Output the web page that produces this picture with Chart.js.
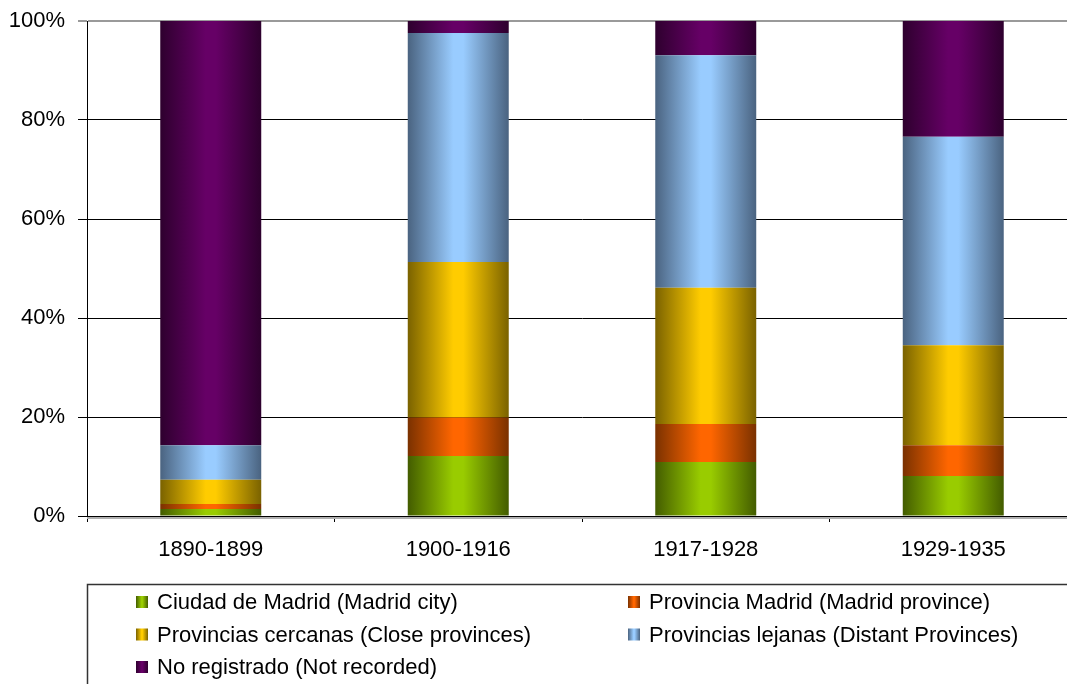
<!DOCTYPE html>
<html>
<head>
<meta charset="utf-8">
<script src="https://cdn.jsdelivr.net/npm/chart.js@4/dist/chart.umd.min.js"></script>
<style>
  html, body { margin: 0; padding: 0; background: #fff; overflow: hidden; }
  #caja { width: 1092px; height: 684px; }
</style>
</head>
<body>
<div id="caja"><canvas id="graficoOrigen"></canvas></div>
<script>
// Periodos (eje X)
const periodos = ['1890-1899', '1900-1916', '1917-1928', '1929-1935'];

// Porcentajes por origen
const ciudadMadrid       = [1.4, 12.1, 10.9, 8.1];
const provinciaMadrid    = [1.0, 7.8, 7.7, 6.2];
const provinciasCercanas = [4.9, 31.4, 27.5, 20.2];
const provinciasLejanas  = [7.0, 46.3, 47.0, 42.1];
const noRegistrado       = [85.7, 2.4, 6.9, 23.4];

const nombresSeries = [
    'Ciudad de Madrid (Madrid city)',
    'Provincia Madrid (Madrid province)',
    'Provincias cercanas (Close provinces)',
    'Provincias lejanas (Distant Provinces)',
    'No registrado (Not recorded)'
];

// colores: [claro (centro), oscuro (bordes)]
const colores = [
    ['#99cc00', '#435c00'],
    ['#ff6600', '#7a3100'],
    ['#ffcc00', '#7a6200'],
    ['#99ccff', '#4a6380'],
    ['#660066', '#2e002e']
];

const ANCHO_BARRA = 0.408;

function degradado(ctx, x0, x1, claro, oscuro) {
    const g = ctx.createLinearGradient(x0, 0, x1, 0);
    g.addColorStop(0, oscuro);
    g.addColorStop(0.45, claro);
    g.addColorStop(0.55, claro);
    g.addColorStop(1, oscuro);
    return g;
}

function relleno(claro, oscuro) {
    return (c) => {
        const chart = c.chart;
        const xs = chart.scales.x;
        if (!chart.chartArea || !xs || c.type !== 'data') return claro;
        const centro = xs.getPixelForValue(c.dataIndex);
        const ancho = (xs.width / periodos.length) * ANCHO_BARRA;
        return degradado(chart.ctx, centro - ancho / 2, centro + ancho / 2, claro, oscuro);
    };
}

const valores = [ciudadMadrid, provinciaMadrid, provinciasCercanas, provinciasLejanas, noRegistrado];

const datasets = valores.map((v, i) => ({
    label: nombresSeries[i],
    data: v,
    backgroundColor: relleno(colores[i][0], colores[i][1]),
    borderWidth: 0,
    barPercentage: ANCHO_BARRA,
    categoryPercentage: 1
}));

// Leyenda en caja, dos columnas, debajo del gráfico
const leyendaCaja = {
    id: 'leyendaCaja',
    afterDraw(chart) {
        const ctx = chart.ctx;
        const abajo = chart.chartArea.bottom;
        ctx.save();
        // línea gris bajo el eje X
        ctx.strokeStyle = '#b0b0b0';
        ctx.lineWidth = 2;
        ctx.beginPath();
        ctx.moveTo(chart.chartArea.left, abajo + 2);
        ctx.lineTo(chart.chartArea.right, abajo + 2);
        ctx.stroke();

        ctx.strokeStyle = '#333';
        ctx.lineWidth = 1.5;
        ctx.strokeRect(87.5, 584.5, 1200, 200);

        ctx.font = '22px "Liberation Sans", Arial, sans-serif';
        ctx.textBaseline = 'middle';
        ctx.fillStyle = '#000';
        chart.data.datasets.forEach((ds, i) => {
            const col = i % 2;
            const fila = Math.floor(i / 2);
            const x = col ? 628 : 136;
            const y = 602 + fila * 32.5;
            ctx.fillStyle = degradado(ctx, x, x + 12, colores[i][0], colores[i][1]);
            ctx.fillRect(x, y - 6, 12, 12);
            ctx.fillStyle = '#000';
            ctx.fillText(ds.label, x + 21, y + 1);
        });
        ctx.restore();
    }
};

Chart.defaults.font.family = '"Liberation Sans", Arial, sans-serif';
Chart.defaults.font.size = 22;
Chart.defaults.color = '#000';

new Chart(document.getElementById('graficoOrigen'), {
    type: 'bar',
    data: { labels: periodos, datasets: datasets },
    plugins: [leyendaCaja],
    options: {
        responsive: true,
        maintainAspectRatio: false,
        animation: false,
        layout: { padding: { top: 21, right: 15, bottom: 108, left: 0 } },
        plugins: {
            legend: { display: false },
            tooltip: { enabled: false }
        },
        scales: {
            x: {
                stacked: true,
                offset: true,
                grid: {
                    display: true,
                    drawOnChartArea: false,
                    offset: true,
                    tickLength: 6,
                    color: '#000'
                },
                border: { color: '#000', width: 1 },
                ticks: { padding: 15, font: { size: 22 } },
                afterFit(scale) { scale.height = 60; }
            },
            y: {
                stacked: true,
                min: 0,
                max: 100,
                ticks: {
                    stepSize: 20,
                    padding: 13,
                    font: { size: 22 },
                    callback: (v) => v + '%'
                },
                grid: {
                    tickLength: 9,
                    color: (c) => c.tick && c.tick.value === 100 ? '#9a9a9a' : '#000',
                    lineWidth: (c) => c.tick && c.tick.value === 100 ? 2 : 1
                },
                border: { color: '#000', width: 1 },
                afterFit(scale) {
                    scale.width = 87;
                    scale.paddingTop = 0;
                    scale.paddingBottom = 0;
                }
            }
        }
    }
});
</script>
</body>
</html>
